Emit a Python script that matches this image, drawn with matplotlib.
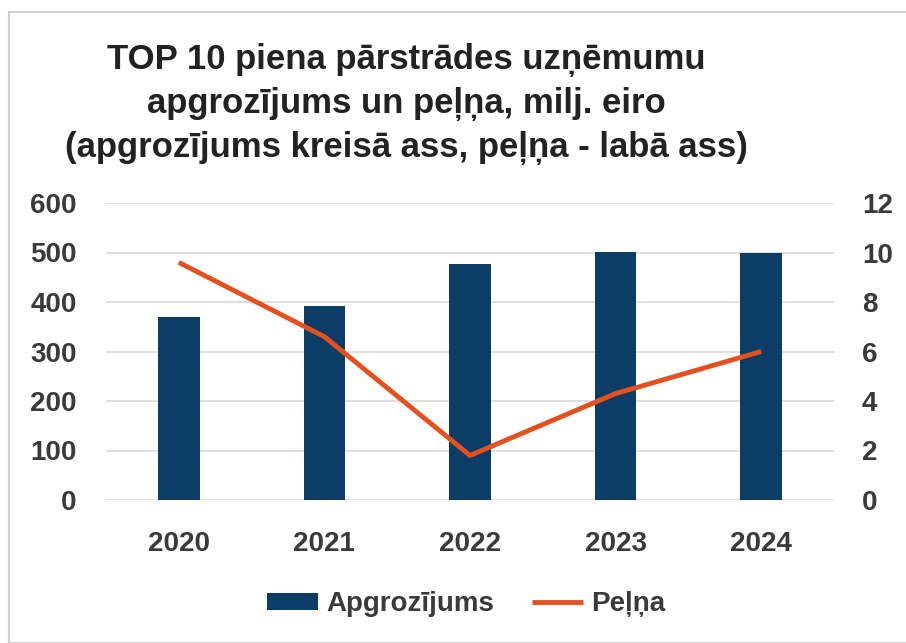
import matplotlib
matplotlib.use("Agg")
import matplotlib.pyplot as plt
from matplotlib.patches import Rectangle

years = ["2020", "2021", "2022", "2023", "2024"]
apgrozijums = [369, 392, 477, 502, 498]
pelna = [9.6, 6.6, 1.8, 4.3, 6.0]

title_lines = ["TOP 10 piena pārstrādes uzņēmumu",
               "apgrozījums un peļņa, milj. eiro",
               "(apgrozījums kreisā ass, peļņa - labā ass)"]

bar_color = "#0B3D66"
line_color = "#E4501E"
text_color = "#3A3A3A"

plt.rcParams['font.family'] = ['Liberation Sans', 'DejaVu Sans']

fig = plt.figure(figsize=(9.06, 6.43), dpi=100)
fig.patch.set_facecolor("white")
fig.patches.append(Rectangle((9/906, 0), 1.2, 1 - 12/643, transform=fig.transFigure,
                             fill=False, edgecolor="#D0D0D0", linewidth=1.5))

ax = fig.add_axes([106/906, 1 - 500/643, (834 - 106)/906, (500 - 203)/643])
x = list(range(len(years)))
ax.bar(x, apgrozijums, width=0.286, color=bar_color, label="Apgrozījums", zorder=2)
ax.set_ylim(0, 600)
ax.set_yticks(range(0, 601, 100))
ax.set_xlim(-0.5, len(years) - 0.5)
ax.set_xticks(x)
ax.set_xticklabels(years)
ax.grid(axis='y', color="#D9D9D9", linewidth=1.2, zorder=0)
for s in ax.spines.values():
    s.set_visible(False)
ax.tick_params(axis='both', length=0, labelsize=20, colors=text_color)
ax.tick_params(axis='x', pad=22)
ax.tick_params(axis='y', pad=21)
for lbl in ax.get_xticklabels() + ax.get_yticklabels():
    lbl.set_fontweight('bold')

ax2 = ax.twinx()
ax2.plot(x, pelna, color=line_color, linewidth=3.5, label="Peļņa", zorder=3,
         solid_capstyle='butt')
ax2.set_ylim(0, 12)
ax2.set_yticks(range(0, 13, 2))
for s in ax2.spines.values():
    s.set_visible(False)
ax2.tick_params(axis='y', length=0, labelsize=20, colors=text_color, pad=20)
for lbl in ax2.get_yticklabels():
    lbl.set_fontweight('bold')

for i, t in enumerate(title_lines):
    fig.text(406/906, 1 - (60 + i * 44) / 643, t, ha='center', va='center',
             fontsize=25, fontweight='bold', color="#222222")

h1, l1 = ax.get_legend_handles_labels()
h2, l2 = ax2.get_legend_handles_labels()
leg = fig.legend(h1 + h2, l1 + l2, loc='center', bbox_to_anchor=(466/906, 1 - 604/643),
                 ncol=2, frameon=False, fontsize=20, handlelength=1.85,
                 handleheight=0.55, handletextpad=0.3, columnspacing=1.35)
for t in leg.get_texts():
    t.set_color(text_color)
    t.set_fontweight('bold')

fig.savefig("out.png", dpi=100, facecolor=fig.get_facecolor())
